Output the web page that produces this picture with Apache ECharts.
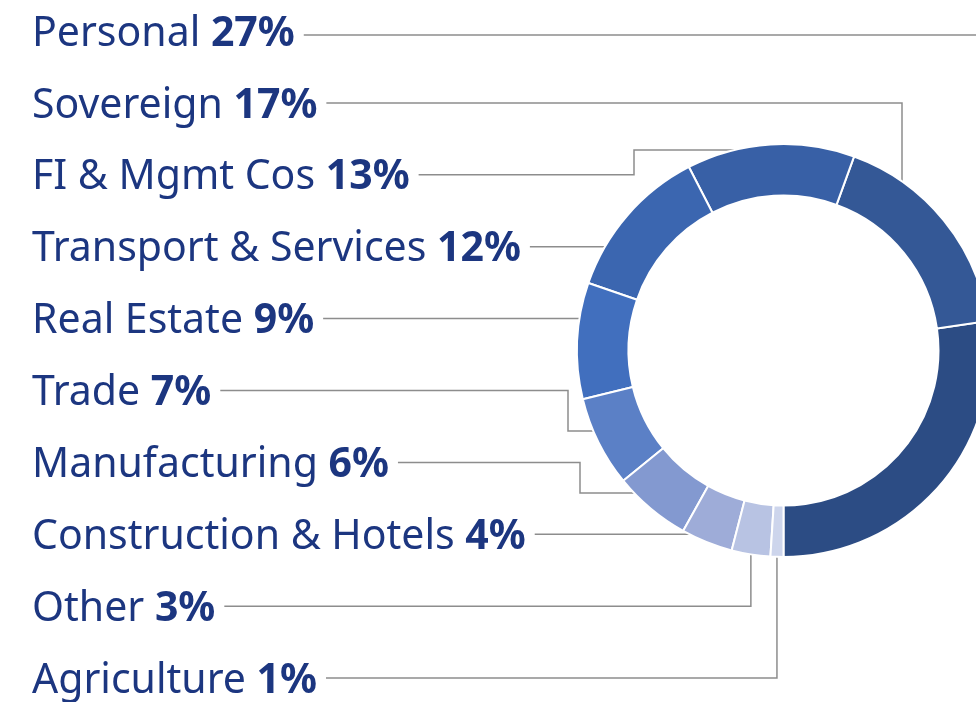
<!DOCTYPE html>
<html>
<head>
<meta charset="utf-8">
<script src="https://cdn.jsdelivr.net/npm/echarts@6/dist/echarts.min.js"></script>
<style>
  html, body { margin: 0; padding: 0; background: #fff; }
  #chart { width: 976px; height: 702px; }
</style>
</head>
<body>
<div id="chart"></div>
<script>
// loan book by sector (share of total, %)
const sectors = ['Personal', 'Sovereign', 'FI & Mgmt Cos', 'Transport & Services', 'Real Estate',
  'Trade', 'Manufacturing', 'Construction & Hotels', 'Other', 'Agriculture'];
const shares = [27, 17, 13, 12, 9, 7, 6, 4, 3, 1];
const sliceColors = ['#2c4c84', '#345896', '#3860a6', '#3b66b0', '#416fbe',
  '#5b80c6', '#8399d0', '#9eacd8', '#b8c3e3', '#cdd5ec'];

const CX = 783.5, CY = 350.5, R_IN = 155, R_OUT = 206.5;
const FONT = '"Noto Sans", sans-serif';
const FONT_SIZE = 41;
const TEXT_COLOR = '#1c3680';
const LABEL_X = 32, ROW_TOP = 31, ROW_STEP = 71.9, GAP = 9, TEXT_SHIFT = 3;

const ctx = document.createElement('canvas').getContext('2d');
const textWidth = (str, weight) => {
  ctx.font = weight + ' ' + FONT_SIZE + 'px ' + FONT;
  return ctx.measureText(str).width;
};

// where a horizontal / vertical leader meets the outer rim
const rimXLeft = (y) => CX - Math.sqrt(R_OUT * R_OUT - (y - CY) * (y - CY));
const rimYTop = (x) => CY - Math.sqrt(R_OUT * R_OUT - (x - CX) * (x - CX));

function leader(i, x0, y, anchor) {
  switch (i) {
    case 0: return [[x0, y], [1040, y], [1040, CY]];
    case 1: return [[x0, y], [902, y], [902, rimYTop(902)]];
    case 2: return [[x0, y], [634, y], [634, 150], [rimXLeft(150), 150]];
    case 5: return [[x0, y], [568, y], [568, 431], [rimXLeft(431), 431]];
    case 6: return [[x0, y], [580, y], [580, 493], [rimXLeft(493), 493]];
    case 8:
    case 9: return [[x0, y], [anchor[0], y], [anchor[0], anchor[1]]];
    default: return [[x0, y], [rimXLeft(y), y]];
  }
}

const chart = echarts.init(document.getElementById('chart'));

chart.setOption({
  animation: false,
  series: [{
    type: 'pie',
    center: [CX, CY],
    radius: [R_IN, R_OUT],
    startAngle: -90,
    clockwise: false,
    avoidLabelOverlap: false,
    itemStyle: { borderColor: '#fff', borderWidth: 2 },
    label: {
      show: true,
      position: 'outside',
      overflow: 'none',
      formatter: (p) => '{n|' + p.name + ' }{v|' + p.value + '%}',
      rich: {
        n: { fontFamily: FONT, fontSize: FONT_SIZE, fontWeight: 400, color: TEXT_COLOR },
        v: { fontFamily: FONT, fontSize: FONT_SIZE, fontWeight: 700, color: TEXT_COLOR }
      }
    },
    labelLine: { show: true, lineStyle: { color: '#8d8d8d', width: 1.5 } },
    emphasis: { disabled: true },
    labelLayout: (p) => {
      const i = p.dataIndex;
      const y = ROW_TOP + ROW_STEP * i;
      const lineY = i === 0 ? y + 4 : y;
      const w = textWidth(sectors[i] + ' ', 400) + textWidth(shares[i] + '%', 700);
      const x0 = LABEL_X + w + GAP;
      return {
        x: LABEL_X,
        y: y + TEXT_SHIFT,
        align: 'left',
        verticalAlign: 'middle',
        labelLinePoints: leader(i, x0, lineY, p.labelLinePoints[0])
      };
    },
    data: sectors.map((name, i) => ({
      name: name,
      value: shares[i],
      itemStyle: { color: sliceColors[i] }
    }))
  }]
});
</script>
</body>
</html>
